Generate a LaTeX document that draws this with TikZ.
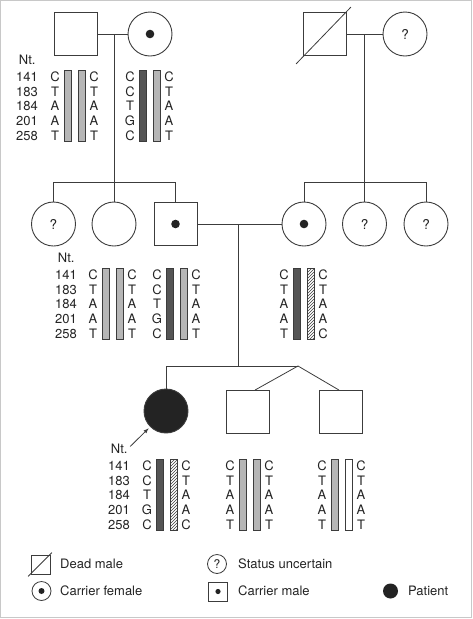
\documentclass[tikz,border=0pt]{standalone}
\usepackage{fontspec}
\setmainfont{TeX Gyre Heros}
\usepackage{tikz}
\usepackage{xcolor}
\usetikzlibrary{patterns}
\usetikzlibrary{arrows}
\usetikzlibrary{calc}
\usetikzlibrary{positioning}

\definecolor{linegray}{RGB}{60,60,60}
\definecolor{barlight}{RGB}{182,182,182}
\definecolor{bardark}{RGB}{85,85,85}
\definecolor{framegray}{RGB}{200,200,200}
\definecolor{txtgray}{RGB}{35,35,35}

\tikzset{
  male/.style={draw=linegray, line width=0.9pt, minimum size=43pt, inner sep=0pt},
  female/.style={circle, draw=linegray, line width=0.9pt, minimum size=44pt, inner sep=0pt,
    text=txtgray, font=\fontsize{13.5}{15}\selectfont},
  lmale/.style={draw=linegray, line width=0.8pt, minimum size=19pt, inner sep=0pt},
  lfemale/.style={circle, draw=linegray, line width=0.8pt, minimum size=19pt, inner sep=0pt,
    text=txtgray, font=\fontsize{12}{13}\selectfont},
  bar/.style={draw=linegray, line width=0.7pt, minimum width=7pt, minimum height=71pt, inner sep=0pt},
  lite/.style={fill=barlight},
  dark/.style={fill=bardark},
  hatch/.style={pattern=north east lines, pattern color=linegray},
  blank/.style={fill=white},
  txt/.style={anchor=base, inner sep=0pt, text=txtgray, font=\fontsize{13}{15}\selectfont},
  link/.style={draw=linegray, line width=0.8pt},
}

% numbers column: name, right x, first row
\newcommand{\ntcol}[3]{%
  \node[txt] (#1-nt) at (#2-10.8, #3-12.4) {Nt.};
  \foreach \n [count=\i from 0] in {141,183,184,201,258}
    \node[txt, anchor=base east] (#1-n\i) at (#2, #3+\i*14.6+4.6) {\n};
}

% two alleles: name, left x, first row, letters, letters, bar, bar
\newcommand{\haplo}[7]{%
  \foreach \b [count=\i from 0] in {#4}
    \node[txt] (#1-l\i) at (#2, #3+\i*14.6+4.6) {\b};
  \node[bar, #6] (#1-a) at (#2+13, #3+28.5) {};
  \node[bar, #7] (#1-b) at (#2+27, #3+28.5) {};
  \foreach \b [count=\i from 0] in {#5}
    \node[txt] (#1-r\i) at (#2+39, #3+\i*14.6+4.6) {\b};
}

\begin{document}
\begin{tikzpicture}[x=1pt, y=-1pt, >=latex]
\useasboundingbox (0,0) rectangle (472,619);
\draw[framegray, line width=1pt] (0.5,0.5) rectangle (471,617.5);

%Grandparents
\begin{scope}
  \node[male] (gpa) at (75.5,34) {};
  \node[female] (gma) at (150,34) {};
  \fill[txtgray] (gma.center) circle (4.3pt);
  \node[male] (gpb) at (325,34) {};
  \draw[link] ($(gpb.south west)+(-7,8)$) -- ($(gpb.north east)+(4,-5)$);
  \node[female] (gmb) at (405,34) {?};

  \ntcol{gp}{38}{77}
  \haplo{hgpa}{55}{77}{C,T,A,A,T}{C,T,A,A,T}{lite}{lite}
  \haplo{hgma}{130}{77}{C,C,T,G,C}{C,T,A,A,T}{dark}{lite}
\end{scope}

%Parents
\begin{scope}
  \node[female] (aunt1) at (53.5,224) {?};
  \node[female] (aunt2) at (114,224) {};
  \node[male] (father) at (175.5,224) {};
  \fill[txtgray] (father.center) circle (4.3pt);
  \node[female] (mother) at (304,224) {};
  \fill[txtgray] (mother.center) circle (4.3pt);
  \node[female] (aunt3) at (364.5,224) {?};
  \node[female] (aunt4) at (426,224) {?};

  \ntcol{p}{77}{275}
  \haplo{hau}{93}{275}{C,T,A,A,T}{C,T,A,A,T}{lite}{lite}
  \haplo{hfa}{157}{275}{C,C,T,G,C}{C,T,A,A,T}{dark}{lite}
  \haplo{hmo}{284}{275}{C,T,A,A,T}{C,T,A,A,C}{dark}{hatch}
\end{scope}

%Children
\begin{scope}
  \node[female, fill=txtgray] (patient) at (166,411) {};
  \node[male] (son1) at (248,412) {};
  \node[male] (son2) at (341,412) {};

  \ntcol{c}{130}{466}
  \haplo{hpt}{147}{466}{C,C,T,G,C}{C,T,A,A,C}{dark}{hatch}
  \haplo{hs1}{230}{466}{C,T,A,A,T}{C,T,A,A,T}{lite}{lite}
  \haplo{hs2}{322}{466}{C,T,A,A,T}{C,T,A,A,T}{lite}{blank}
  \draw[link, ->, shorten <=3.5pt, shorten >=2pt] (c-nt.east) -- (patient.south west);
\end{scope}

% lines of descent
\draw[link] (gpa.east) -- (gma.west);
\draw[link] (aunt2.north |- gpa.east) -- (aunt2.north);
\draw[link] (aunt1.north) -- ++(0,-19) -| (father.north);
\draw[link] (gpb.east) -- (gmb.west);
\draw[link] (aunt3.north |- gpb.east) -- (aunt3.north);
\draw[link] (mother.north) -- ++(0,-19) -| (aunt4.north);

\coordinate (fm) at (238,224);
\coordinate (tw) at (298,366);
\draw[link] (father.east) -- (mother.west);
\draw[link] (fm) -- (fm |- tw);
\draw[link] (patient.north) |- (tw);
\draw[link] (tw) -- ($(son1.north)+(7,0)$);
\draw[link] (tw) -- ($(son2.north)+(-2,0)$);

%Legend
\begin{scope}
  \node[lmale] (lg-dead) at (41,564.5) {};
  \draw[link] ($(lg-dead.south west)+(-3,2)$) -- ($(lg-dead.north east)+(1,-2)$);
  \node[txt, anchor=base west] (lg-dead-t) at (60,568.6) {Dead male};
  \node[lfemale] (lg-cf) at (41.5,591) {};
  \fill[txtgray] (lg-cf.center) circle (3pt);
  \node[txt, anchor=base west] (lg-cf-t) at (60,595.6) {Carrier female};
  \node[lfemale] (lg-unk) at (217,564) {?};
  \node[txt, anchor=base west] (lg-unk-t) at (238,568.6) {Status uncertain};
  \node[lmale] (lg-cm) at (218,591.5) {};
  \fill[txtgray] (lg-cm.center) circle (2.6pt);
  \node[txt, anchor=base west] (lg-cm-t) at (238,595.6) {Carrier male};
  \node[circle, fill=txtgray, minimum size=15pt, inner sep=0pt] (lg-pt) at (390.5,591) {};
  \node[txt, anchor=base west] (lg-pt-t) at (408,595.6) {Patient};
\end{scope}
\end{tikzpicture}
\end{document}
